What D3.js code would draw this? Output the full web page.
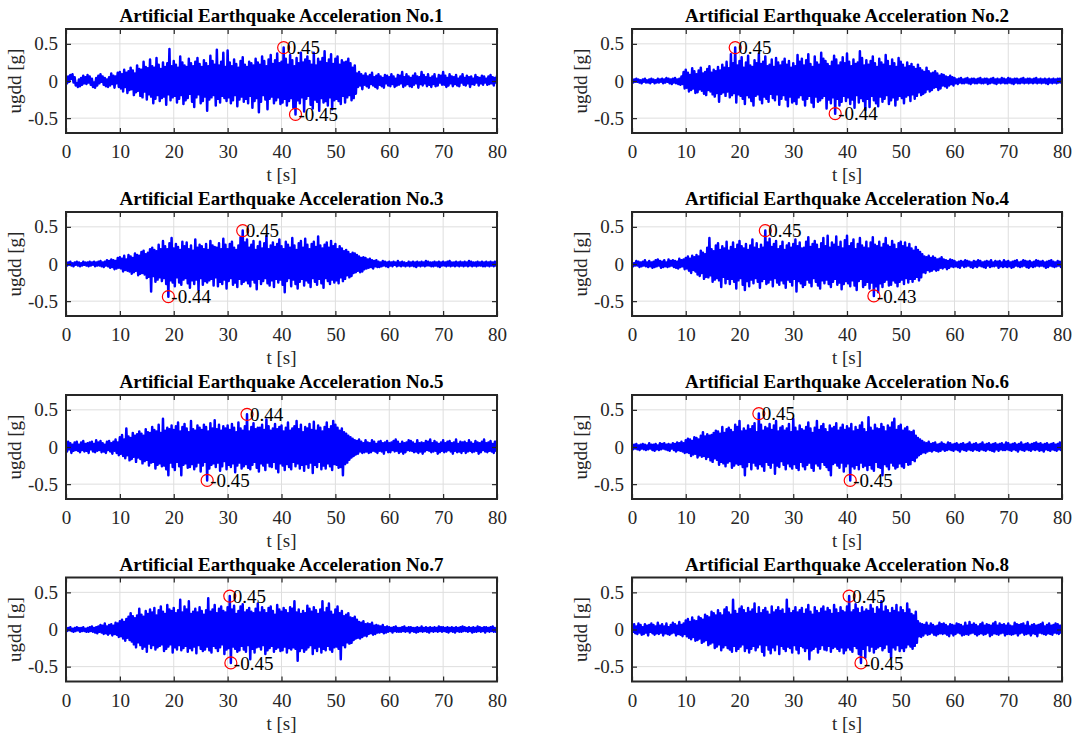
<!DOCTYPE html>
<html><head><meta charset="utf-8">
<script src="https://cdn.jsdelivr.net/npm/d3@7"></script>
<style>
html,body{margin:0;padding:0;background:#fff;}
svg{display:block;}
text{font-family:"Liberation Serif","Times New Roman",serif;}
</style></head>
<body>
<svg id="chart" width="1077" height="734"></svg>
<script>
// ---- data: ground acceleration in 0.01 g, sampled every 0.2 s from 0 to 80 s ----
const T_END = 80;
const titles = [
  "Artificial Earthquake Acceleration No.1","Artificial Earthquake Acceleration No.2",
  "Artificial Earthquake Acceleration No.3","Artificial Earthquake Acceleration No.4",
  "Artificial Earthquake Acceleration No.5","Artificial Earthquake Acceleration No.6",
  "Artificial Earthquake Acceleration No.7","Artificial Earthquake Acceleration No.8"];
const xTicks = [0,10,20,30,40,50,60,70,80];
const yTicks = [-0.5,0,0.5];
const yTickLabels = ["-0.5","0","0.5"];
const xLabel = "t [s]";
const yLabel = "ugdd [g]";

const acc1 = [
 2,-3,6,-1,8,3,9,-2,5,-6, -3,-8,2,-7,4,-5,7,-3,5,-4, 8,-2,6,-5,3,-8,-2,-9,4,-6, 7,-3,9,-1,6,-5,4,-7,2,-8, 5,-6,10,-4,7,-9,6,-3,11,-8,
 12,-10,9,-14,15,-8,11,-16,13,-12, 18,-11,14,-19,10,-15,21,-13,16,-20, 15,-22,26,-14,19,-25,17,-18,29,-21, 20,-30,18,-24,31,-19,22,-27,16,-23, 25,-21,19,-32,24,-18,43,-26,20,-22,
 27,-20,22,-29,18,-24,33,-19,25,-31, 21,-26,19,-23,30,-17,24,-28,20,-35, 26,-22,31,-18,23,-30,19,-27,28,-21, 24,-40,20,-25,34,-22,27,-19,22,-33, 42,-24,21,-29,26,-20,38,-23,19,-27,
 41,-22,25,-30,20,-26,29,-19,23,-34, 18,-25,27,-21,32,-28,22,-24,19,-30, 26,-20,24,-36,21,-27,30,-23,25,-42, 22,-28,33,-19,27,-25,20,-38,29,-24, 35,-21,23,-30,28,-26,37,-22,24,-31,
 26,-29,45,-24,30,-33,22,-27,35,-23, 28,-36,20,-45,31,-26,24,-30,38,-22, 25,-41,29,-24,33,-20,27,-32,22,-37, 38,-25,21,-28,30,-40,26,-23,31,-29, 40,-27,24,-33,29,-22,36,-38,23,-26,
 30,-24,33,-27,22,-31,28,-20,25,-29, 26,-22,30,-19,24,-26,18,-23,21,-17, 10,-8,12,-6,9,-11,7,-5,10,-7, 6,-9,8,-4,11,-6,5,-8,7,-10, 9,-5,6,-7,4,-9,8,-3,7,-6,
 5,-7,9,-4,6,-8,3,-6,8,-5, 7,-3,12,-8,5,-6,9,-4,6,-7, 4,-8,7,-5,10,-3,6,-9,5,-4, 12,-6,8,-3,5,-7,9,-5,4,-8, 6,-4,9,-7,3,-6,8,-2,7,-5,
 12,-5,7,-8,4,-6,9,-3,6,-7, 5,-4,8,-6,3,-7,6,-2,9,-5, 4,-6,7,-3,5,-8,6,-4,3,-5, 8,-2,5,-6,4,-3,7,-5,6,-2, 3,-5,6,-4,8,-3,5,-6,4,-2,7];
const acc2 = [
 1,-2,2,-1,3,-1,2,-2,1,-3, 2,-1,3,-2,1,-2,2,-3,3,-1, 2,-3,1,-2,3,-2,2,-1,3,-3, 2,-2,4,-1,3,-3,2,-4,3,-2, 4,-3,2,-4,3,-5,6,-4,12,-10,
 15,-9,11,-14,8,-12,17,-10,13,-16, 9,-15,14,-11,18,-13,10,-17,12,-19, 16,-12,20,-14,11,-18,15,-21,13,-16, 19,-28,14,-17,22,-15,18,-20,26,-14, 17,-22,36,-19,24,-16,45,-29,21,-18,
 27,-20,32,-24,18,-31,25,-19,34,-22, 21,-27,19,-33,28,-20,24,-18,37,-25, 23,-30,26,-21,33,-24,20,-28,22,-17, 29,-23,19,-26,31,-18,25,-32,21,-24, 26,-19,30,-25,22,-34,27,-21,18,-29,
 24,-27,20,-31,35,-22,26,-19,30,-25, 21,-33,28,-24,36,-20,23,-29,19,-35, 33,-21,25,-28,22,-26,38,-23,30,-20, 27,-37,23,-25,20,-30,26,-22,34,-44, 29,-24,21,-33,25,-28,32,-20,24,-27,
 37,-22,26,-31,20,-25,29,-36,23,-19, 25,-29,40,-23,31,-27,21,-39,28,-24, 22,-35,27,-20,33,-26,24,-30,19,-34, 30,-21,25,-28,22,-24,35,-19,27,-31, 20,-26,29,-22,24,-33,19,-25,31,-20,
 26,-23,22,-30,18,-21,25,-19,20,-27, 23,-18,19,-24,16,-20,22,-15,17,-19, 14,-17,12,-15,18,-11,13,-14,10,-12, 11,-9,13,-8,10,-12,7,-10,9,-6, 8,-7,6,-9,5,-6,7,-4,5,-6,
 4,-3,2,-4,3,-2,4,-3,2,-3, 3,-2,4,-3,2,-4,3,-2,3,-3, 2,-3,3,-2,4,-3,2,-3,3,-2, 3,-4,2,-3,3,-2,4,-3,2,-4, 3,-2,2,-3,4,-2,3,-3,2,-3,
 4,-2,3,-3,2,-4,3,-2,3,-3, 2,-3,3,-2,4,-3,2,-2,3,-3, 3,-2,2,-3,3,-2,4,-3,2,-2, 3,-3,2,-2,3,-3,2,-4,3,-2, 2,-3,3,-2,2,-3,3,-2,3,-2,2];
const acc3 = [
 1,-2,2,-1,3,-2,1,-3,2,-1, 3,-2,2,-3,1,-2,3,-1,2,-2, 2,-3,3,-2,2,-1,3,-3,2,-2, 3,-2,4,-3,2,-4,3,-2,5,-3, 4,-5,6,-4,5,-7,4,-6,8,-5,
 9,-6,7,-10,11,-8,6,-9,12,-10, 10,-13,8,-11,14,-9,12,-15,11,-13, 16,-12,18,-14,13,-19,15,-17,20,-37, 22,-16,19,-24,17,-21,26,-18,20,-23, 31,-19,24,-27,20,-44,28,-22,35,-25,
 21,-30,27,-18,23,-25,19,-28,30,-21, 24,-19,29,-26,20,-32,25,-22,18,-27, 33,-21,22,-35,26,-19,24,-28,20,-23, 27,-25,19,-22,31,-20,25,-29,23,-18, 22,-30,28,-24,20,-27,34,-21,26,-33,
 20,-23,27,-19,30,-28,22,-25,19,-31, 25,-20,36,-27,45,-24,29,-22,33,-26, 22,-30,26,-21,31,-25,19,-34,24,-20, 30,-27,21,-23,28,-19,38,-26,20,-29, 25,-22,29,-31,23,-20,27,-25,33,-21,
 24,-28,20,-38,30,-23,26,-19,22,-30, 35,-21,25,-27,19,-33,28,-24,31,-20, 22,-29,34,-22,26,-25,20,-31,27,-19, 30,-24,23,-28,37,-20,25,-26,21,-32, 26,-19,29,-23,22,-27,31,-21,24,-25,
 27,-22,20,-26,24,-18,21,-23,17,-20, 19,-15,16,-18,13,-16,15,-12,14,-11, 12,-9,10,-11,8,-10,9,-7,8,-6, 6,-5,7,-4,5,-6,4,-3,5,-4, 3,-4,2,-3,4,-2,3,-3,2,-4,
 3,-2,2,-3,3,-1,2,-3,4,-2, 2,-3,3,-2,2,-3,1,-2,3,-3, 2,-2,3,-3,2,-4,3,-2,2,-3, 3,-2,2,-3,4,-2,3,-2,2,-3, 2,-3,3,-2,2,-3,3,-4,2,-2,
 3,-2,2,-3,3,-2,4,-3,2,-2, 2,-3,3,-2,2,-3,3,-2,2,-3, 3,-2,2,-3,4,-2,3,-3,2,-2, 2,-3,3,-2,2,-2,3,-3,2,-3, 3,-2,2,-3,3,-2,2,-3,3,-2,2];
const acc4 = [
 2,-3,1,-2,4,-2,3,-4,2,-3, 3,-2,5,-3,2,-4,4,-3,2,-5, 3,-4,5,-3,6,-2,4,-5,3,-4, 5,-3,2,-4,6,-3,4,-2,5,-4, 4,-5,3,-6,7,-4,5,-3,6,-7,
 8,-6,10,-9,7,-12,11,-8,9,-10, 12,-14,10,-16,18,-12,15,-20,13,-17, 22,-18,35,-15,20,-24,17,-21,25,-19, 28,-22,19,-31,24,-17,21,-26,30,-20, 18,-27,23,-20,29,-24,20,-33,26,-22,
 31,-19,24,-28,21,-35,27,-23,19,-30, 25,-21,33,-26,22,-19,28,-24,20,-32, 26,-23,22,-20,45,-27,29,-25,34,-21, 23,-30,27,-19,31,-25,20,-28,24,-22, 30,-26,19,-32,25,-21,28,-24,22,-29,
 27,-20,33,-37,24,-23,29,-26,21,-31, 22,-28,30,-21,36,-25,23,-30,27,-19, 31,-24,26,-29,20,-33,28,-22,35,-26, 24,-21,38,-27,22,-31,29,-24,26,-20, 37,-28,23,-25,30,-34,21,-27,32,-23,
 38,-26,24,-30,28,-22,33,-29,20,-35, 27,-23,35,-20,25,-31,22,-28,30,-24, 21,-33,29,-25,36,-43,26,-30,24,-38, 30,-26,22,-31,27,-24,35,-21,25,-29, 23,-28,31,-22,26,-25,20,-30,28,-24,
 30,-21,24,-27,29,-19,22,-25,27,-20, 21,-24,18,-20,23,-17,19,-22,16,-18, 13,-11,10,-12,9,-8,11,-10,8,-9, 10,-7,8,-9,6,-8,7,-5,9,-6, 6,-4,5,-7,4,-5,6,-3,5,-4,
 4,-3,2,-4,3,-5,4,-2,3,-4, 5,-3,4,-2,3,-4,2,-5,4,-3, 3,-4,5,-2,4,-3,2,-4,3,-5, 4,-2,3,-4,5,-3,2,-3,4,-2, 3,-5,4,-3,2,-4,5,-3,3,-4,
 4,-3,2,-5,3,-4,4,-2,5,-3, 2,-4,3,-3,5,-2,4,-4,3,-5, 4,-3,2,-4,3,-3,5,-2,4,-3, 3,-2,4,-3,2,-5,3,-4,4,-2, 5,-3,3,-4,2,-3,4,-2,3,-4,2];
const acc5 = [
 4,-6,7,-3,5,-8,3,-5,6,-4, 7,-5,3,-7,6,-4,8,-6,4,-5, 5,-8,6,-3,7,-6,4,-7,9,-5, 6,-4,8,-7,5,-6,3,-8,7,-4, 8,-6,5,-9,7,-5,10,-8,6,-11,
 13,-9,16,-12,10,-15,25,-11,14,-18, 12,-16,19,-13,15,-20,17,-14,21,-16, 18,-22,15,-19,24,-17,20,-25,19,-21, 27,-20,23,-29,21,-24,30,-22,19,-26, 38,-25,22,-30,26,-38,24,-21,29,-27,
 23,-31,28,-20,33,-26,21,-38,27,-24, 31,-22,25,-28,20,-27,35,-23,24,-30, 22,-26,29,-21,26,-33,23,-25,30,-20, 27,-45,21,-29,32,-24,25,-22,36,-27, 24,-21,30,-32,22,-26,28,-19,25,-30,
 29,-24,23,-27,31,-22,26,-34,20,-25, 33,-21,25,-29,22,-26,28,-23,44,-28, 21,-30,27,-24,32,-20,24,-28,26,-33, 26,-22,30,-25,23,-31,37,-21,28,-26, 22,-27,25,-20,31,-29,24,-34,27,-22,
 29,-25,21,-31,26,-23,33,-27,22,-30, 25,-20,28,-26,35,-22,24,-29,30,-24, 20,-32,27,-23,25,-28,31,-21,23,-35, 34,-24,22,-27,29,-20,26,-30,21,-25, 27,-29,33,-22,24,-26,28,-31,35,-23,
 30,-24,26,-28,22,-27,25,-38,20,-23, 18,-21,15,-17,13,-14,11,-12,9,-10, 8,-9,10,-6,7,-8,5,-7,9,-6, 6,-8,5,-7,9,-5,7,-6,4,-8, 7,-5,8,-6,5,-9,6,-4,8,-7,
 5,-7,6,-4,8,-6,10,-5,7,-8, 4,-6,7,-9,5,-7,6,-4,9,-5, 8,-5,6,-7,4,-6,9,-8,5,-6, 6,-9,5,-6,8,-4,7,-5,10,-7, 5,-6,8,-5,6,-9,4,-7,6,-5,
 9,-7,5,-6,7,-4,8,-6,5,-9, 6,-5,10,-7,4,-6,7,-8,6,-5, 7,-8,5,-6,9,-5,6,-7,4,-6, 8,-5,6,-9,5,-7,7,-4,10,-6, 5,-7,6,-5,8,-6,4,-8,7,-5,9];
const acc6 = [
 2,-3,3,-2,4,-3,2,-4,3,-2, 4,-3,3,-4,2,-3,5,-2,3,-4, 3,-5,4,-3,2,-4,5,-3,4,-2, 5,-3,3,-4,4,-5,3,-2,5,-4, 4,-6,6,-4,5,-5,7,-6,5,-8,
 9,-7,11,-8,10,-12,8,-10,13,-9, 12,-14,10,-11,15,-13,20,-12,14,-16, 17,-13,15,-18,16,-20,19,-15,22,-17, 21,-24,18,-20,27,-22,19,-26,24,-21, 26,-19,23,-28,20,-25,30,-22,27,-24,
 35,-23,21,-27,25,-38,22,-26,29,-20, 24,-30,28,-21,32,-25,20,-29,45,-23, 30,-26,22,-32,27,-20,25,-24,31,-28, 23,-21,29,-36,35,-25,21,-27,26,-19, 28,-24,22,-30,25,-22,31,-26,20,-29,
 38,-23,26,-28,21,-31,29,-20,24,-26, 22,-30,27,-24,33,-21,25,-28,19,-32, 26,-22,35,-25,23,-29,28,-20,31,-24, 24,-27,20,-31,29,-38,25,-23,27,-21, 32,-25,22,-28,26,-21,30,-33,23,-26,
 28,-22,25,-45,31,-26,21,-29,27,-24, 23,-30,29,-21,33,-27,24,-25,20,-31, 40,-24,26,-29,22,-32,30,-20,25,-27, 24,-28,31,-38,27,-23,21,-26,29,-30, 26,-21,33,-25,38,-29,23,-27,28,-22,
 30,-26,22,-28,25,-20,27,-24,21,-23, 20,-17,22,-19,15,-14,12,-11,10,-9, 8,-7,6,-8,5,-6,7,-5,4,-6, 5,-4,6,-5,3,-6,4,-5,6,-3, 4,-5,3,-4,6,-3,5,-4,3,-5,
 4,-3,5,-4,3,-6,4,-3,5,-4, 3,-5,4,-3,6,-4,3,-5,4,-3, 5,-4,3,-5,4,-3,6,-4,3,-5, 4,-3,5,-4,3,-5,4,-6,5,-3, 3,-5,4,-3,5,-4,3,-4,6,-3,
 5,-4,3,-5,4,-3,5,-4,3,-6, 4,-3,6,-4,3,-5,4,-3,5,-4, 3,-5,4,-3,5,-4,6,-3,4,-5, 5,-4,3,-6,4,-3,5,-4,3,-5, 4,-3,5,-4,3,-5,4,-3,6,-4,3];
const acc7 = [
 1,-2,2,-1,3,-2,1,-3,2,-2, 3,-1,2,-3,2,-2,3,-2,1,-3, 2,-3,3,-2,4,-3,2,-4,3,-5, 4,-3,6,-4,5,-6,8,-5,4,-7, 6,-5,7,-8,5,-6,9,-7,8,-10,
 11,-9,13,-12,10,-15,14,-11,17,-14, 22,-16,18,-20,15,-24,19,-17,28,-21, 20,-26,17,-23,25,-30,21,-19,27,-25, 23,-21,29,-27,19,-24,26,-22,31,-20, 24,-29,21,-26,33,-23,27,-20,25,-31,
 29,-24,22,-27,26,-21,40,-28,23,-25, 31,-22,27,-30,38,-25,21,-28,24,-23, 28,-32,23,-21,30,-26,25,-29,20,-27, 26,-23,42,-28,24,-31,27,-22,33,-25, 22,-29,28,-24,31,-20,25,-33,23,-27,
 30,-25,45,-45,27,-23,32,-26,21,-30, 25,-28,31,-22,34,-27,23,-30,26,-21, 29,-40,24,-26,22,-31,28,-24,35,-23, 23,-27,30,-21,26,-33,22,-28,29,-25, 31,-22,25,-30,20,-26,33,-24,27,-29,
 24,-28,29,-23,26,-31,22,-25,30,-27, 28,-24,38,-26,23,-42,27,-29,21,-25, 25,-30,22,-27,32,-24,28,-21,24,-33, 30,-25,26,-29,21,-23,27,-31,38,-26, 23,-28,29,-22,35,-27,24,-30,20,-24,
 27,-23,31,-26,22,-40,25,-21,18,-24, 20,-17,22,-19,16,-18,15,-14,17,-12, 13,-11,10,-12,9,-10,11,-8,7,-9, 8,-6,7,-5,9,-7,5,-6,6,-4, 5,-4,4,-3,6,-5,3,-4,4,-3,
 3,-2,2,-4,3,-2,4,-3,2,-3, 2,-3,3,-2,4,-3,2,-2,3,-4, 3,-2,2,-3,2,-4,3,-3,2,-2, 4,-3,2,-2,3,-3,2,-4,3,-2, 2,-3,3,-2,2,-3,4,-2,3,-3,
 3,-2,2,-3,3,-4,2,-2,3,-3, 2,-4,3,-2,2,-3,3,-3,4,-2, 3,-2,2,-3,3,-2,2,-4,3,-3, 2,-3,4,-2,3,-3,2,-2,3,-4, 3,-2,2,-3,3,-2,4,-3,2,-3,1];
const acc8 = [
 5,-3,7,-5,4,-6,8,-4,6,-7, 3,-6,7,-4,5,-8,6,-3,8,-5, 6,-7,4,-5,9,-6,5,-4,7,-8, 4,-5,8,-6,3,-7,6,-5,9,-4, 7,-8,5,-6,10,-7,6,-9,8,-6,
 12,-9,14,-11,10,-13,16,-10,12,-15, 11,-14,17,-12,15,-18,13,-16,20,-14, 18,-21,16,-19,24,-17,22,-25,19,-23, 26,-20,22,-28,19,-24,27,-21,30,-25, 23,-27,20,-30,40,-22,25,-29,21,-26,
 28,-23,31,-20,26,-29,22,-25,29,-31, 24,-26,27,-22,35,-28,21,-24,30,-20, 22,-30,26,-35,29,-21,24,-27,20,-32, 31,-24,23,-28,26,-20,30,-33,25,-22, 27,-26,21,-29,40,-23,28,-25,22,-31,
 25,-21,30,-27,23,-32,26,-22,29,-24, 21,-29,27,-25,33,-40,24,-28,20,-26, 30,-23,25,-31,22,-26,28,-21,31,-27, 24,-28,29,-22,26,-30,21,-25,33,-23, 27,-26,22,-29,30,-24,25,-32,23,-28,
 31,-24,45,-27,23,-30,26,-22,34,-25, 28,-33,22,-45,30,-26,24,-38,27,-21, 25,-29,33,-23,28,-31,21,-26,30,-24, 27,-22,38,-28,24,-25,31,-20,26,-30, 22,-38,29,-24,25,-27,33,-21,23,-29,
 30,-25,26,-29,22,-24,35,-20,27,-23, 21,-26,19,-22,24,-18,11,-9,8,-10, 7,-8,6,-5,9,-7,5,-6,8,-4, 6,-7,4,-8,5,-6,9,-5,7,-6, 8,-5,6,-7,4,-9,7,-5,6,-8,
 5,-6,8,-4,7,-5,6,-8,4,-7, 9,-6,5,-7,10,-5,6,-4,8,-6, 6,-8,4,-6,7,-5,9,-7,5,-6, 7,-4,6,-9,5,-7,8,-5,10,-6, 5,-7,8,-5,6,-4,7,-8,5,-6,
 8,-6,5,-7,4,-6,9,-5,7,-8, 6,-5,7,-4,8,-7,5,-6,10,-5, 4,-8,6,-5,7,-6,5,-9,6,-4, 7,-5,9,-6,4,-7,6,-5,8,-6, 5,-7,6,-4,8,-5,7,-6,5,-4,7];
const records = [acc1,acc2,acc3,acc4,acc5,acc6,acc7,acc8];

// ---- layout ----
const svg = d3.select("#chart");
const colX = [[66,497],[632,1062]];
const rowTop = [29,212,395,577.5];
const axH = 104;
const ink = "#262626";
const serif = '"Liberation Serif","Times New Roman",serif';
const fs = 19;

records.forEach((rec, k) => {
  const col = k % 2, row = Math.floor(k / 2);
  const [x0, x1] = colX[col];
  const y0 = rowTop[row], y1 = y0 + axH;
  const n = rec.length;
  const pts = rec.map((v, i) => ({t: i * T_END / (n - 1), a: v / 100}));
  const x = d3.scaleLinear().domain([0, T_END]).range([x0, x1]);
  const y = d3.scaleLinear().domain([-0.7, 0.7]).range([y1, y0]);
  const g = svg.append("g");

  // grid
  g.append("g").selectAll("line").data(xTicks).join("line")
    .attr("x1", d => x(d)).attr("x2", d => x(d)).attr("y1", y0).attr("y2", y1)
    .attr("stroke", "#dedede").attr("stroke-width", 1);
  g.append("g").selectAll("line").data(yTicks).join("line")
    .attr("y1", d => y(d)).attr("y2", d => y(d)).attr("x1", x0).attr("x2", x1)
    .attr("stroke", "#dedede").attr("stroke-width", 1);

  // data trace
  const clipId = "clip" + k;
  svg.append("clipPath").attr("id", clipId).append("rect")
    .attr("x", x0).attr("y", y0).attr("width", x1 - x0).attr("height", axH);
  g.append("path").datum(pts).attr("clip-path", `url(#${clipId})`)
    .attr("d", d3.line().x(d => x(d.t)).y(d => y(d.a)))
    .attr("fill", "none").attr("stroke", "#0000ff").attr("stroke-width", 2.5)
    .attr("stroke-linejoin", "round");

  // axes (inward ticks on all four sides)
  const tl = 5;
  const bottom = g.append("g").attr("transform", `translate(0,${y1})`)
    .call(d3.axisBottom(x).tickValues(xTicks).tickSizeInner(-tl).tickSizeOuter(0).tickPadding(12).tickFormat(d3.format("d")));
  const top = g.append("g").attr("transform", `translate(0,${y0})`)
    .call(d3.axisTop(x).tickValues(xTicks).tickSizeInner(-tl).tickSizeOuter(0).tickFormat(""));
  const left = g.append("g").attr("transform", `translate(${x0},0)`)
    .call(d3.axisLeft(y).tickValues(yTicks).tickSizeInner(-tl).tickSizeOuter(0).tickPadding(8)
      .tickFormat((d, i) => yTickLabels[i]));
  const right = g.append("g").attr("transform", `translate(${x1},0)`)
    .call(d3.axisRight(y).tickValues(yTicks).tickSizeInner(-tl).tickSizeOuter(0).tickFormat(""));
  [bottom, top, left, right].forEach(a => {
    a.select(".domain").remove();
    a.selectAll(".tick line").attr("stroke", ink).attr("stroke-width", 1.2);
    a.selectAll("text").attr("fill", ink).style("font-size", fs + "px").style("font-family", serif);
  });
  g.append("rect").attr("x", x0).attr("y", y0).attr("width", x1 - x0).attr("height", axH)
    .attr("fill", "none").attr("stroke", ink).attr("stroke-width", 2);

  // labels
  g.append("text").attr("x", (x0 + x1) / 2).attr("y", y0 - 7)
    .attr("text-anchor", "middle").attr("font-weight", "bold").attr("font-size", 19)
    .attr("fill", "#000").text(titles[k]);
  g.append("text").attr("x", (x0 + x1) / 2).attr("y", y1 + 48)
    .attr("text-anchor", "middle").attr("font-size", fs).attr("fill", ink).text(xLabel);
  g.append("text").attr("transform", `translate(${x0 - 45},${(y0 + y1) / 2}) rotate(-90)`)
    .attr("text-anchor", "middle").attr("font-size", fs).attr("fill", ink).text(yLabel);

  // peak markers
  const iMax = d3.maxIndex(pts, d => d.a), iMin = d3.minIndex(pts, d => d.a);
  [iMax, iMin].forEach(i => {
    const p = pts[i];
    g.append("circle").attr("cx", x(p.t)).attr("cy", y(p.a)).attr("r", 6)
      .attr("fill", "none").attr("stroke", "#ff0000").attr("stroke-width", 1.2);
    g.append("text").attr("x", x(p.t) + 3).attr("y", y(p.a)).attr("dy", "0.35em")
      .attr("font-size", fs).attr("fill", "#000").text(p.a.toFixed(2));
  });
});
</script>
</body></html>
